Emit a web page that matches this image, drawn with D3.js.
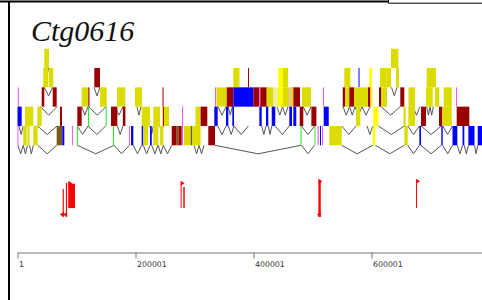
<!DOCTYPE html>
<html>
<head>
<meta charset="utf-8">
<script src="https://cdn.jsdelivr.net/npm/d3@7/dist/d3.min.js"></script>
<style>
  html, body { margin: 0; padding: 0; background: #fff; }
  svg { display: block; }
</style>
</head>
<body>
<svg id="chart" width="482" height="300"></svg>
<script>
// Contig overview: stacked gene models (exons as boxes, introns as V's),
// a strand track of red markers and a coordinate ruler in kb.

const CONTIG = "Ctg0616";
const TICKS_KB = [0, 200, 400, 600];

// exons per layout row: [startKb, endKb, colour key]
const rowA = [[45.4, 53.4, "Y"], [633.1, 645.5, "Y"]];

const rowB = [
  [43.7, 51.7, "Y"], [52.9, 60.7, "Y"], [130.2, 139.8, "R"], [365.8, 376.3, "Y"],
  [390.7, 392.4, "R"], [442.1, 450.0, "BY"], [450.0, 458.5, "Y"], [553.9, 564.1, "Y"],
  [578.0, 579.7, "B"], [596.3, 600.9, "BY"], [614.4, 625.8, "Y"], [625.8, 633.1, "Y"],
  [641.6, 646.6, "Y"], [693.6, 709.4, "Y"],
];

const rowC = [
  [0.5, 2.2, "M"], [41.0, 45.4, "R"], [59.7, 66.4, "R"], [108.8, 120.0, "Y"],
  [120.0, 122.0, "R"], [139.8, 151.2, "Y"], [168.7, 182.7, "Y"], [199.2, 211.0, "Y"],
  [245.8, 247.5, "R"], [334.8, 336.5, "M"], [337.3, 354.6, "Y"], [354.6, 365.8, "R"],
  [365.8, 399.7, "B"], [399.7, 409.9, "R"], [409.9, 411.5, "M"], [411.5, 422.4, "R"],
  [422.4, 433.1, "Y"], [433.1, 441.6, "L"], [441.6, 450.0, "BY"], [450.0, 460.2, "Y"],
  [461.0, 462.7, "M"], [462.7, 467.5, "Y"], [467.5, 478.8, "R"], [482.2, 497.4, "Y"],
  [517.8, 519.5, "M"], [551.2, 555.1, "R"], [555.1, 562.4, "Y"], [562.4, 570.4, "R"],
  [570.4, 594.1, "Y"], [594.1, 598.3, "R"], [598.3, 601.7, "BY"], [612.7, 616.1, "R"],
  [616.1, 626.3, "Y"], [648.8, 655.6, "R"], [662.7, 673.7, "Y"], [692.4, 703.8, "Y"],
  [707.7, 714.9, "Y"], [722.4, 736.0, "Y"], [743.2, 744.9, "M"],
];

const rowD = [
  [0.0, 7.1, "B"], [12.7, 26.8, "Y"], [33.6, 41.0, "Y"], [72.0, 75.4, "R"],
  [101.4, 108.8, "R"], [119.5, 121.2, "G"], [149.5, 151.2, "G"], [158.5, 169.2, "R"],
  [178.6, 182.9, "R"], [210.5, 224.6, "Y"], [230.2, 241.5, "Y"], [245.4, 256.8, "Y"],
  [246.6, 248.3, "R"], [278.8, 280.5, "M"], [301.7, 309.3, "Y"], [310.2, 321.7, "R"],
  [333.6, 339.3, "B"], [353.4, 357.3, "B"], [364.1, 367.0, "B"], [409.9, 413.9, "B"],
  [421.2, 425.1, "B"], [430.9, 436.9, "B"], [460.7, 465.3, "B"], [467.5, 472.5, "B"],
  [478.3, 484.4, "R"], [498.1, 506.6, "R"], [519.0, 527.5, "B"], [573.8, 581.1, "Y"],
  [603.1, 611.6, "BY"], [654.3, 658.0, "Y"], [662.4, 673.7, "Y"], [683.9, 692.4, "R"],
  [714.4, 720.0, "R"], [720.0, 735.9, "Y"], [744.4, 765.8, "R"],
];

const rowE = [
  [0.0, 1.4, "M"], [9.8, 15.6, "Y"], [16.9, 20.3, "Y"], [26.8, 34.2, "Y"],
  [66.4, 75.9, "O"], [75.9, 79.3, "B"], [92.4, 94.1, "M"], [100.9, 102.6, "G"],
  [161.9, 163.6, "G"], [189.0, 190.7, "M"], [192.4, 196.3, "B"], [210.5, 213.2, "B"],
  [213.6, 221.2, "Y"], [224.6, 227.5, "B"], [230.2, 238.6, "Y"], [241.5, 247.1, "Y"],
  [261.4, 269.8, "R"], [269.8, 272.6, "O"], [272.6, 278.3, "R"], [278.8, 280.5, "M"],
  [282.2, 293.6, "Y"], [293.6, 296.3, "O"], [296.3, 309.3, "Y"], [309.3, 312.2, "L"],
  [323.4, 334.8, "R"], [479.7, 481.4, "G"], [503.4, 505.1, "G"], [508.5, 510.5, "M"],
  [512.7, 514.4, "B"], [516.1, 517.8, "M"], [528.5, 549.5, "Y"], [602.1, 606.5, "BY"],
  [655.6, 661.4, "Y"], [681.1, 683.9, "B"], [718.3, 720.7, "B"], [737.3, 745.4, "B"],
  [754.3, 757.3, "B"], [764.1, 774.6, "B"], [780.0, 787.3, "B"],
];

// introns hanging below each row boundary: [fromKb, toKb]
const intronsL1 = [[47.5, 52.5]];
const intronsL2 = [[45.4, 59.7], [129.7, 139.8], [633.9, 643.3]];
const intronsL3 = [
  [39.0, 67.0], [108.8, 119.5], [120.3, 150.0], [165.3, 178.8], [202.5, 209.3],
  [339.6, 353.6], [357.3, 364.1], [439.9, 449.2], [449.2, 458.5], [484.3, 497.4],
  [551.7, 562.7], [562.7, 572.1], [572.1, 583.9], [583.9, 597.5], [616.1, 648.8],
  [670.4, 682.2], [693.6, 699.2], [699.2, 704.8],
];
const intronsL4 = [
  [2.5, 9.8], [33.9, 67.0], [101.4, 119.5], [119.5, 149.5], [169.2, 178.8],
  [224.6, 230.2], [241.5, 246.6], [339.6, 353.6], [357.3, 367.0], [367.0, 391.3],
  [413.9, 421.2], [425.1, 430.9], [436.9, 460.7], [481.4, 503.4], [549.5, 573.8],
  [592.4, 602.1], [611.6, 655.6], [661.4, 681.1], [683.9, 718.3], [720.7, 737.3],
];
const intronsL5 = [
  [0.8, 9.8], [9.8, 16.9], [20.3, 26.8], [34.2, 66.4], [101.4, 163.6], [163.6, 189.5],
  [196.3, 210.5], [213.2, 224.6], [227.5, 238.1], [238.6, 247.1], [247.1, 261.4],
  [299.2, 307.7], [307.7, 316.2], [334.8, 480.5], [481.4, 503.4], [549.5, 602.1],
  [606.5, 655.6], [661.4, 681.1], [683.9, 718.3], [720.7, 737.3], [745.4, 754.3],
  [757.3, 764.1], [774.6, 780.0],
];

// red strand markers: [startKb, endKb, top (0..1), bottom (0..1), head]
const redMarks = [
  [76.5, 78.5, 0.24, 1.0, "bottom"],
  [82.0, 84.0, 0.08, 1.0, "bottom"],
  [86.0, 97.5, 0.1, 0.76, "top"],
  [276.5, 278.0, 0.1, 0.76, "top"],
  [281.0, 283.5, 0.19, 0.76, "none"],
  [510.0, 514.0, 0.05, 1.0, "both"],
  [675.5, 677.0, 0.05, 0.76, "top"],
];

const COLORS = {
  Y: "#dcdc00", BY: "#ffff00", R: "#990000", B: "#0000ff",
  M: "#ff55ff", G: "#22ee22", O: "#7a5a14", L: "#efef99",
};

const svg = d3.select("#chart");
const W = 482;

const x = d3.scaleLinear().domain([0, 800]).range([17.5, 489.5]);
const level = d3.scaleLinear().domain([0, 5]).range([48.7, 145.3]);
const markY = d3.scaleLinear().domain([0, 1]).range([180, 217]);
const V_DEPTH = 8.5;

// frame
svg.append("path")
  .attr("d", "M0,1.5H389")
  .attr("stroke", "#000").attr("stroke-width", 2).attr("fill", "none");
svg.append("path")
  .attr("d", "M388.5,0V3.5M389,3.2H482")
  .attr("stroke", "#000").attr("stroke-width", 1).attr("fill", "none");
svg.append("path")
  .attr("d", "M9,2V300")
  .attr("stroke", "#000").attr("stroke-width", 2).attr("fill", "none");

svg.append("text")
  .attr("x", 31).attr("y", 40.5)
  .attr("font-family", "'Liberation Serif', 'DejaVu Serif', serif")
  .attr("font-style", "italic")
  .attr("font-size", 30)
  .attr("fill", "#111")
  .text(CONTIG);

// introns
const intronLevels = [intronsL1, intronsL2, intronsL3, intronsL4, intronsL5];
const gIntrons = svg.append("g")
  .attr("fill", "none").attr("stroke", "#555").attr("stroke-width", 1);

intronLevels.forEach((list, i) => {
  const y0 = level(i + 1);
  gIntrons.selectAll(null)
    .data(list)
    .join("path")
    .attr("d", ([a, b]) => {
      const x1 = x(a), x2 = x(b);
      return `M${x1},${y0}L${(x1 + x2) / 2},${y0 + V_DEPTH}L${x2},${y0}`;
    });
});

// exons
const rows = [rowA, rowB, rowC, rowD, rowE];
rows.forEach((row, i) => {
  const y0 = level(i), h = level(i + 1) - level(i);
  svg.append("g").selectAll("rect")
    .data(row)
    .join("rect")
    .attr("x", (d) => x(d[0]))
    .attr("y", y0)
    .attr("width", (d) => Math.max(1, x(d[1]) - x(d[0])))
    .attr("height", h)
    .attr("fill", (d) => COLORS[d[2]]);
});

// red markers
const gMarks = svg.append("g").attr("fill", "#ff0000");
redMarks.forEach(([s, e, t, b, head]) => {
  const x0 = x(s), x1 = x(e);
  gMarks.append("rect")
    .attr("x", x0).attr("y", markY(t))
    .attr("width", Math.max(1, x1 - x0))
    .attr("height", markY(b) - markY(t));
  if (head === "top" || head === "both") {
    const yt = markY(t) - 3;
    gMarks.append("path").attr("d", `M${x0},${yt}L${x0 + 4},${yt + 2.5}L${x0},${yt + 5}Z`);
  }
  if (head === "bottom" || head === "both") {
    const yb = markY(b);
    gMarks.append("path").attr("d", `M${x1},${yb - 5}L${x1 - 4},${yb - 2.5}L${x1},${yb}Z`);
  }
});

// ruler
const axis = d3.axisBottom(x)
  .tickValues(TICKS_KB)
  .tickSize(6)
  .tickSizeOuter(0)
  .tickFormat((d) => String(d * 1000 + 1));

const gAxis = svg.append("g")
  .attr("transform", "translate(0,252.5)")
  .call(axis);

gAxis.select(".domain").attr("stroke", "#777");
gAxis.selectAll(".tick line").attr("stroke", "#777");
gAxis.selectAll(".tick text")
  .attr("x", 1)
  .attr("text-anchor", "start")
  .attr("fill", "#333")
  .attr("font-family", "'DejaVu Sans', Verdana, sans-serif")
  .attr("font-size", 7.8);
</script>
</body>
</html>
